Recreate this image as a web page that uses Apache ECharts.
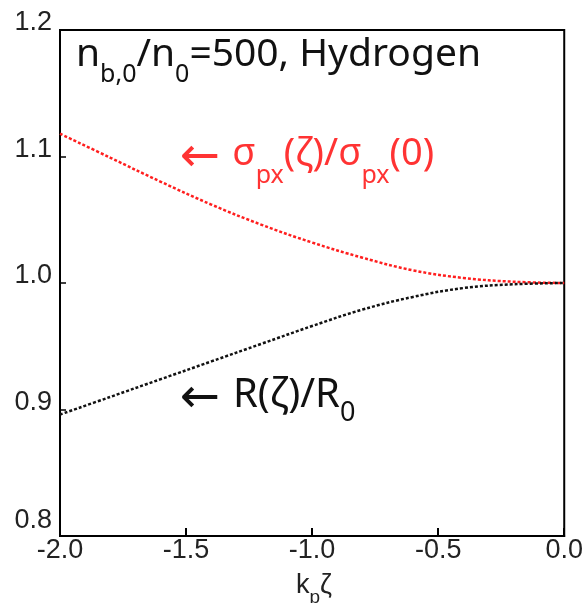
<!DOCTYPE html>
<html>
<head>
<meta charset="utf-8">
<script src="https://cdn.jsdelivr.net/npm/echarts@6/dist/echarts.min.js"></script>
<style>
  html, body { margin: 0; padding: 0; background: #fff; }
  #main { width: 586px; height: 603px; }
</style>
</head>
<body>
<div id="main"></div>
<script>
// k_p * zeta
var zeta = [-2.0, -1.8, -1.6, -1.4, -1.2, -1.0, -0.8, -0.6, -0.4, -0.2, 0.0];
// sigma_px(zeta)/sigma_px(0)
var sigmaRatio = [1.118, 1.099, 1.080, 1.062, 1.046, 1.032, 1.020, 1.010, 1.004, 1.001, 1.000];
// R(zeta)/R0
var radiusRatio = [0.896, 0.910, 0.924, 0.938, 0.952, 0.966, 0.979, 0.989, 0.996, 0.999, 1.000];

var yTicks = [0.8, 0.9, 1.0, 1.1, 1.2];
var xTicks = [-2.0, -1.5, -1.0, -0.5, 0.0];

function pairs(xs, ys) {
    return xs.map(function (x, i) { return [x, ys[i]]; });
}

var labelFont = '"Liberation Sans", Arial, sans-serif';
var textFont = '"Noto Sans", "Open Sans", sans-serif';
var arrowFont = '"DejaVu Sans", sans-serif';

var myChart = echarts.init(document.getElementById('main'));

var option = {
    animation: false,
    backgroundColor: '#fff',
    grid: {
        left: 60, right: 19, top: 30, bottom: 67,
        show: true,
        borderColor: '#000',
        borderWidth: 2,
        backgroundColor: 'transparent'
    },
    xAxis: {
        type: 'value',
        position: 'bottom',
        min: xTicks[0],
        max: xTicks[xTicks.length - 1],
        interval: 0.5,
        axisLine: {show: true, onZero: false, lineStyle: {color: '#000', width: 2}},
        axisTick: {show: true, inside: true, length: 8, lineStyle: {color: '#000', width: 2}},
        splitLine: {show: false},
        axisLabel: {
            margin: 1,
            color: '#222',
            fontSize: 27,
            fontFamily: labelFont,
            showMaxLabel: true,
            formatter: function (v) { return v.toFixed(1); }
        }
    },
    yAxis: {
        type: 'value',
        min: yTicks[0],
        max: yTicks[yTicks.length - 1],
        interval: 0.1,
        axisLine: {show: true, onZero: false, lineStyle: {color: '#000', width: 2}},
        axisTick: {show: true, inside: true, length: 6, lineStyle: {color: '#000', width: 1.5}},
        splitLine: {show: false},
        axisLabel: {
            margin: 8,
            color: '#222',
            fontSize: 27,
            fontFamily: labelFont,
            showMinLabel: true,
            showMaxLabel: true,
            formatter: function (v) {
                var s = v.toFixed(1);
                return Math.abs(v - yTicks[0]) < 1e-6 ? '{low|' + s + '}' : '{n|' + s + '}';
            },
            rich: {
                n: {fontSize: 27, fontFamily: labelFont, color: '#222', padding: [0, 0, 14, 0]},
                low: {fontSize: 27, fontFamily: labelFont, color: '#222', padding: [0, 0, 30, 0]}
            }
        }
    },
    series: [
        {
            name: 'sigma',
            type: 'line',
            data: pairs(zeta, sigmaRatio),
            smooth: 0.4,
            showSymbol: false,
            lineStyle: {color: '#ff1e1e', width: 2.5, type: [3, 2]}
        },
        {
            name: 'R',
            type: 'line',
            data: pairs(zeta, radiusRatio),
            smooth: 0.4,
            showSymbol: false,
            lineStyle: {color: '#111', width: 2.5, type: [3, 2]}
        }
    ],
    graphic: [
        {
            type: 'text',
            x: 76, y: 35,
            style: {
                text: '{a|n}{s|b,0}{a|/n}{s|0}{a|=500, Hydrogen}',
                align: 'left',
                verticalAlign: 'top',
                fill: '#111',
                rich: {
                    a: {fontSize: 39, fontFamily: textFont, lineHeight: 44, verticalAlign: 'top', fill: '#111'},
                    s: {fontSize: 25, fontFamily: textFont, lineHeight: 25, verticalAlign: 'top', padding: [27, 0, 0, 0], fill: '#111'}
                }
            }
        },
        {
            type: 'text',
            x: 180, y: 135,
            style: {
                text: '{r|←}{g| }{a|σ}{s|px}{a|(ζ)/σ}{s|px}{a|(0)}',
                align: 'left',
                verticalAlign: 'top',
                fill: '#ff3333',
                rich: {
                    r: {fontSize: 48, fontFamily: arrowFont, lineHeight: 44, verticalAlign: 'top', fill: '#ff3333'},
                    g: {fontSize: 38, fontFamily: arrowFont, lineHeight: 44, verticalAlign: 'top', fill: '#ff3333'},
                    a: {fontSize: 38, fontFamily: textFont, lineHeight: 44, verticalAlign: 'top', fill: '#ff3333'},
                    s: {fontSize: 25, fontFamily: textFont, lineHeight: 25, verticalAlign: 'top', padding: [28, 0, 0, 0], fill: '#ff3333'}
                }
            }
        },
        {
            type: 'text',
            x: 180, y: 376,
            style: {
                text: '{r|←}{g| }{a|R(ζ)/R}{s|0}',
                align: 'left',
                verticalAlign: 'top',
                fill: '#111',
                rich: {
                    r: {fontSize: 48, fontFamily: arrowFont, lineHeight: 44, verticalAlign: 'top', fill: '#111'},
                    g: {fontSize: 40, fontFamily: arrowFont, lineHeight: 44, verticalAlign: 'top', fill: '#111'},
                    a: {fontSize: 40, fontFamily: textFont, lineHeight: 46, verticalAlign: 'top', fill: '#111'},
                    s: {fontSize: 27, fontFamily: textFont, lineHeight: 27, verticalAlign: 'top', padding: [24, 0, 0, 0], fill: '#111'}
                }
            }
        },
        {
            type: 'text',
            x: 296, y: 572,
            style: {
                text: '{a|k}{s|p}{a|ζ}',
                align: 'left',
                verticalAlign: 'top',
                fill: '#222',
                rich: {
                    a: {fontSize: 27, fontFamily: labelFont, lineHeight: 30, verticalAlign: 'top', fill: '#222'},
                    s: {fontSize: 19, fontFamily: labelFont, lineHeight: 19, verticalAlign: 'top', padding: [16, 0, 0, 0], fill: '#222'}
                }
            }
        }
    ]
};

myChart.setOption(option);
</script>
</body>
</html>
